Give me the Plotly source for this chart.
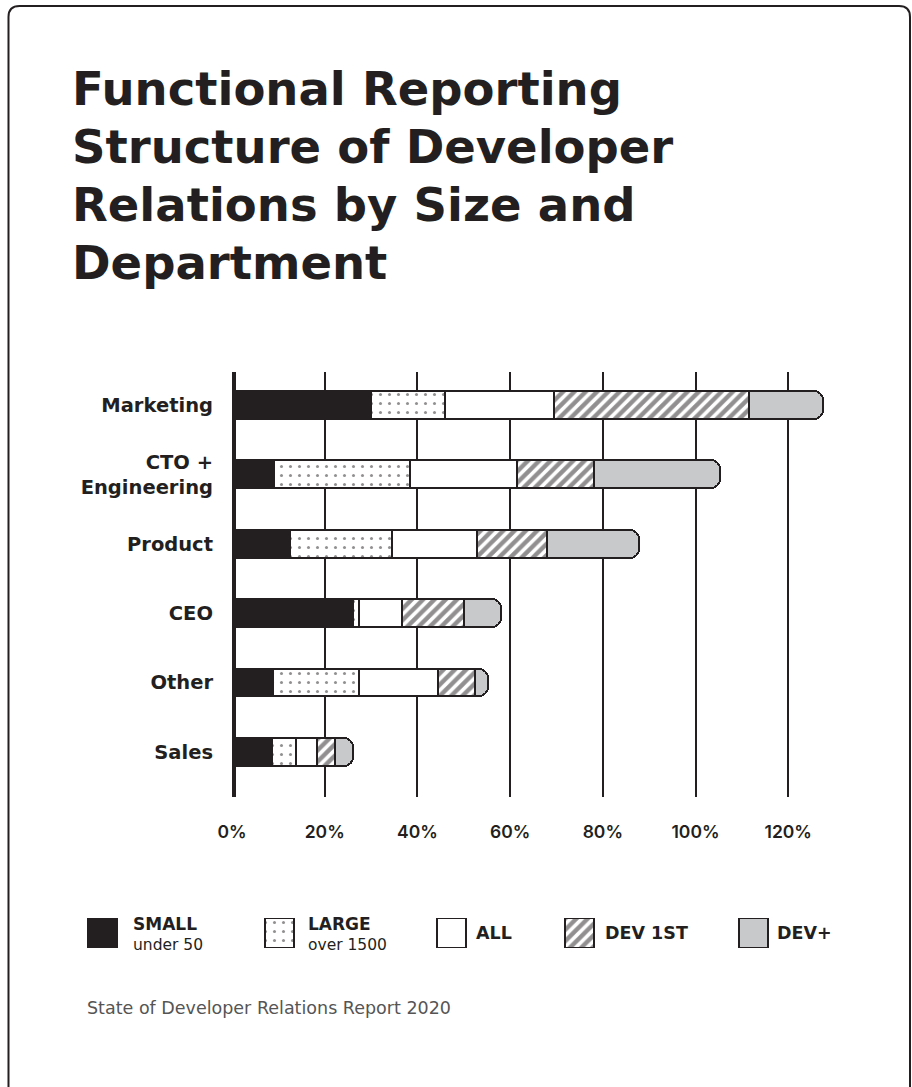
import plotly.graph_objects as go

# ---------------- data ----------------
categories = ["Marketing", "CTO +<br>Engineering", "Product", "CEO", "Other", "Sales"]
series_names = ["SMALL", "LARGE", "ALL", "DEV 1ST", "DEV+"]
series_sub = ["under 50", "over 1500", "", "", ""]
small = [30.0, 9.0, 12.6, 26.0, 8.9, 8.7]
large = [16.0, 29.3, 22.0, 1.4, 18.4, 5.1]
all_ = [23.5, 23.2, 18.3, 9.3, 17.2, 4.5]
dev1st = [42.0, 16.7, 15.0, 13.3, 8.0, 3.9]
devplus = [16.0, 27.0, 20.0, 8.0, 2.8, 4.0]
x_ticks = [0, 20, 40, 60, 80, 100, 120]
title_lines = ["Functional Reporting", "Structure of Developer", "Relations by Size and", "Department"]
source = "State of Developer Relations Report 2020"

# ---------------- styles ----------------
W, H = 912, 1087
INK = "#231f20"
GRAY = "#c8c9cb"
FONT = "Inter, Open Sans, DejaVu Sans, sans-serif"
WIDE = "DejaVu Sans, sans-serif"

styles = [
    dict(color=INK),
    dict(color="white", pattern=dict(shape=".", fgcolor=INK, bgcolor="white", size=9, solidity=0.09)),
    dict(color="white"),
    dict(color="white", pattern=dict(shape="/", fgcolor=INK, bgcolor="white", size=8, solidity=0.55)),
    dict(color=GRAY),
]
series_vals = [small, large, all_, dev1st, devplus]

def px_x(v):
    return v / W

def px_y(v):
    return 1 - v / H

fig = go.Figure()
for name, vals, st in zip(series_names, series_vals, styles):
    fig.add_trace(go.Bar(
        y=categories, x=vals, orientation="h", name=name, width=0.4,
        marker=dict(line=dict(color=INK, width=2), **st),
        xaxis="x", yaxis="y", hoverinfo="skip",
    ))

# legend swatches drawn as bars on a helper axis
legend_x = [102.5, 279.5, 451.5, 579.5, 753.5]
for name, xc, st in zip(series_names, legend_x, styles):
    fig.add_trace(go.Bar(
        x=[xc], y=[1], base=[0], width=[29], name=name,
        marker=dict(line=dict(color=INK, width=2), cornerradius=0, **st),
        xaxis="x2", yaxis="y2", hoverinfo="skip",
    ))

label_x = [131, 306, 474, 603, 775]
annotations = []
for name, sub, lx in zip(series_names, series_sub, label_x):
    if sub:
        annotations.append(dict(x=px_x(lx), y=px_y(924), xref="paper", yref="paper",
                                text="<b>%s</b>" % name, showarrow=False, xanchor="left", yanchor="middle",
                                font=dict(family=WIDE, size=17, color=INK)))
        annotations.append(dict(x=px_x(lx), y=px_y(945), xref="paper", yref="paper",
                                text=sub, showarrow=False, xanchor="left", yanchor="middle",
                                font=dict(family=WIDE, size=15.5, color=INK)))
    else:
        annotations.append(dict(x=px_x(lx), y=px_y(933), xref="paper", yref="paper",
                                text="<b>%s</b>" % name, showarrow=False, xanchor="left", yanchor="middle",
                                font=dict(family=WIDE, size=17.5, color=INK)))

for i, line in enumerate(title_lines):
    annotations.append(dict(x=px_x(70), y=px_y(89 + 58 * i), xref="paper", yref="paper",
                            text="<b>%s</b>" % line, showarrow=False, xanchor="left", yanchor="middle",
                            font=dict(family=WIDE, size=46.5, color=INK)))

annotations.append(dict(x=px_x(85), y=px_y(1008), xref="paper", yref="paper",
                        text=source, showarrow=False, xanchor="left", yanchor="middle",
                        font=dict(family=WIDE, size=17.5, color="#555555")))

x0_px = 232
px_per_unit = 4.635
x_max = 130
plot_top, plot_bot = 372, 797

shapes = [
    # zero axis line
    dict(type="line", xref="x", yref="paper", x0=0, x1=0, y0=px_y(plot_bot), y1=px_y(plot_top),
         line=dict(color=INK, width=8), layer="above"),
    # rounded border
    dict(type="path", xref="paper", yref="paper",
         path="M %f,%f L %f,%f Q %f,%f %f,%f L %f,%f Q %f,%f %f,%f L %f,%f" % (
             px_x(8.5), px_y(1100), px_x(8.5), px_y(17), px_x(8.5), px_y(6), px_x(19.5), px_y(6),
             px_x(899), px_y(6), px_x(910), px_y(6), px_x(910), px_y(17), px_x(910), px_y(1100)),
         line=dict(color=INK, width=2)),
]

fig.update_layout(
    width=W, height=H, autosize=False,
    margin=dict(l=0, r=0, t=0, b=0, pad=0, autoexpand=False),
    paper_bgcolor="white", plot_bgcolor="white",
    barmode="stack", barcornerradius=9, bargap=0, showlegend=False, hovermode=False,
    font=dict(family=FONT, color=INK),
    xaxis=dict(domain=[px_x(x0_px), px_x(x0_px + px_per_unit * x_max)], range=[0, x_max],
               tickvals=x_ticks, ticktext=["%d%%" % v for v in x_ticks], automargin=False,
               showgrid=True, gridcolor=INK, gridwidth=2, zeroline=False, showline=False,
               ticks="", ticklabelstandoff=22,
               tickfont=dict(family=FONT, size=17.5, color=INK, weight=600)),
    yaxis=dict(domain=[px_y(plot_bot), px_y(plot_top)], range=[5.65, -0.475], automargin=False,
               type="category", categoryorder="array", categoryarray=categories,
               showgrid=False, zeroline=False, showline=False, ticks="", ticklabelstandoff=18,
               tickfont=dict(family=WIDE, size=19.5, color=INK, weight="bold")),
    xaxis2=dict(domain=[0, 1], range=[0, W], visible=False, anchor="y2", automargin=False),
    yaxis2=dict(domain=[px_y(948), px_y(918)], range=[0, 1], visible=False, anchor="x2", automargin=False),
    annotations=annotations, shapes=shapes,
)

fig.write_html("out.html", config={"responsive": False, "displayModeBar": False})
